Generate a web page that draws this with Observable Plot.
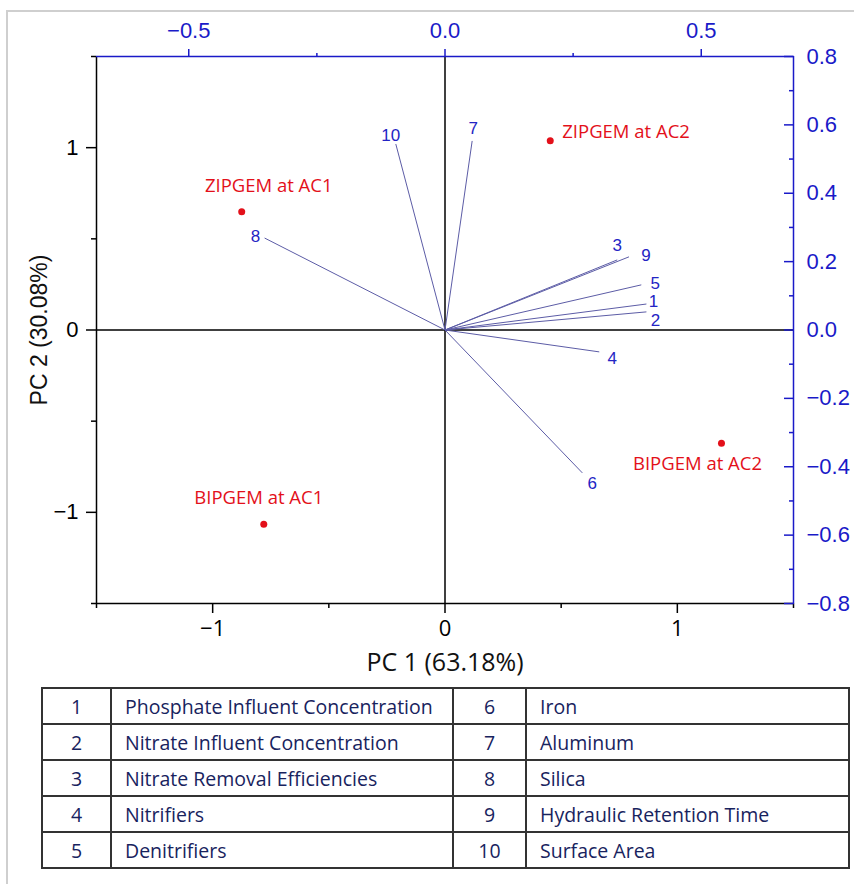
<!DOCTYPE html>
<html>
<head>
<meta charset="utf-8">
<script src="https://cdn.jsdelivr.net/npm/d3@7"></script>
<script src="https://cdn.jsdelivr.net/npm/@observablehq/plot@0.6"></script>
<style>
html,body{margin:0;padding:0;background:#fff;}
#wrap{position:relative;width:854px;height:884px;overflow:hidden;background:#fff;}
#border{position:absolute;left:6px;top:10px;right:0;bottom:0;border-top:2px solid #cfcfcf;border-left:2px solid #cfcfcf;}
#chart{position:absolute;left:0;top:0;}
#legend{position:absolute;left:41px;top:687px;width:807px;border-collapse:collapse;font-family:"Open Sans",sans-serif;font-size:19.5px;color:#18235e;table-layout:fixed;}
#legend td{border:2px solid #333;height:34px;padding:0 0 0 13px;white-space:nowrap;overflow:hidden;}
#legend td.n{text-align:center;padding:0;}
</style>
</head>
<body>
<div id="wrap">
  <div id="border"></div>
  <div id="chart"></div>
  <table id="legend">
    <colgroup><col style="width:69px"><col style="width:342px"><col style="width:73px"><col style="width:323px"></colgroup>
    <tbody></tbody>
  </table>
</div>
<script>
// ---- Data ----
const variableIds = [1, 2, 3, 4, 5, 6, 7, 8, 9, 10];
const variableNames = [
  "Phosphate Influent Concentration",
  "Nitrate Influent Concentration",
  "Nitrate Removal Efficiencies",
  "Nitrifiers",
  "Denitrifiers",
  "Iron",
  "Aluminum",
  "Silica",
  "Hydraulic Retention Time",
  "Surface Area"
];
// loadings (top / right axes)
const loadingPC1 = [0.393, 0.393, 0.336, 0.301, 0.383, 0.268, 0.053, -0.352, 0.359, -0.096];
const loadingPC2 = [0.076, 0.053, 0.205, -0.064, 0.132, -0.418, 0.553, 0.269, 0.214, 0.544];
// scores (bottom / left axes)
const sampleNames = ["ZIPGEM at AC2", "ZIPGEM at AC1", "BIPGEM at AC2", "BIPGEM at AC1"];
const scorePC1 = [0.453, -0.875, 1.19, -0.780];
const scorePC2 = [1.038, 0.648, -0.621, -1.066];
// axis ticks
const pcTicks = [-1, 0, 1];
const pcMinorTicks = [-1.5, -0.5, 0.5, 1.5];
const topTicks = [-0.5, 0.0, 0.5];
const topMinorTicks = [-0.25, 0.25];
const rightTicks = [-0.8, -0.6, -0.4, -0.2, 0.0, 0.2, 0.4, 0.6, 0.8];
const rightMinorTicks = [-0.7, -0.5, -0.3, -0.1, 0.1, 0.3, 0.5, 0.7];
const xTitle = "PC 1 (63.18%)";
const yTitle = "PC 2 (30.08%)";

// ---- label placement (style, pixels) ----
const vecLabelOffset = {
  1: [7, -2], 2: [9, 9], 3: [0, -14], 4: [13, 7], 5: [14, -1],
  6: [10, 11], 7: [1, -12], 8: [-9, -1], 9: [17, -1], 10: [-5, -8]
};
const sampleLabelPlace = {
  "ZIPGEM at AC2": {dx: 12, dy: -9, anchor: "start"},
  "ZIPGEM at AC1": {dx: 27, dy: -26, anchor: "middle"},
  "BIPGEM at AC2": {dx: -24, dy: 21, anchor: "middle"},
  "BIPGEM at AC1": {dx: -5, dy: -26, anchor: "middle"}
};

// secondary axis scale factors (PC units per loading unit)
const pcMax = 1.5;
const topMax = 0.68;
const rightMax = 0.8;
const kx = pcMax / topMax;
const ky = pcMax / rightMax;

const blue = "#1a1ac8";
const vecColor = "#5c5ca6";
const vecText = "#2424c4";
const red = "#e3101a";

const minus = s => s.replace("-", "\u2212");
const fmt1 = v => minus((Math.abs(v) < 1e-9 ? 0 : v).toFixed(1));
const fmt0 = v => minus(String(Math.round(v)));

const vectors = variableIds.map((id, i) => ({id, lx: loadingPC1[i], ly: loadingPC2[i]}));
const samples = sampleNames.map((name, i) => ({name, x: scorePC1[i], y: scorePC2[i]}));

const arial = "'Liberation Sans', Arial, sans-serif";
const sans = "'Open Sans', sans-serif";

const marks = [
  // zero lines
  Plot.ruleX([0], {stroke: "#000", strokeWidth: 1.5}),
  Plot.ruleY([0], {stroke: "#000", strokeWidth: 1.5}),
  // vectors
  Plot.link(vectors, {x1: 0, y1: 0, x2: d => d.lx * kx, y2: d => d.ly * ky, stroke: vecColor, strokeWidth: 1}),
  // frame sides
  Plot.ruleX([-pcMax], {stroke: "#000", strokeWidth: 1.5}),
  Plot.ruleY([-pcMax], {stroke: "#000", strokeWidth: 1.5}),
  Plot.ruleX([pcMax], {stroke: blue, strokeWidth: 1.5}),
  Plot.ruleY([pcMax], {stroke: blue, strokeWidth: 1.5}),
  // bottom axis
  Plot.axisX({anchor: "bottom", ticks: pcTicks, tickSize: 10, tickPadding: 7, tickFormat: fmt0,
    fontSize: 22, fontFamily: sans, color: "#000", strokeWidth: 1.5, label: null}),
  Plot.axisX({anchor: "bottom", ticks: pcMinorTicks, tickSize: 5, tickFormat: () => "", color: "#000", strokeWidth: 1.5, label: null}),
  // left axis
  Plot.axisY({anchor: "left", ticks: pcTicks, tickSize: 10, tickPadding: 8, tickFormat: fmt0,
    fontSize: 22, fontFamily: arial, color: "#000", strokeWidth: 1.5, label: null}),
  Plot.axisY({anchor: "left", ticks: pcMinorTicks, tickSize: 5, tickFormat: () => "", color: "#000", strokeWidth: 1.5, label: null}),
  // top axis (loadings PC1)
  Plot.axisX({anchor: "top", ticks: topTicks.map(v => v * kx), tickSize: 8, tickPadding: 11, tickFormat: d => fmt1(d / kx),
    fontSize: 22, fontFamily: arial, color: blue, strokeWidth: 1.5, label: null}),
  Plot.axisX({anchor: "top", ticks: topMinorTicks.map(v => v * kx), tickSize: 4, tickFormat: () => "", color: blue, strokeWidth: 1.5, label: null}),
  // right axis (loadings PC2), ticks inward
  Plot.axisY({anchor: "right", ticks: rightTicks.map(v => v * ky), tickSize: 10, dx: -10, tickFormat: () => "", color: blue, strokeWidth: 1.5, label: null}),
  Plot.axisY({anchor: "right", ticks: rightMinorTicks.map(v => v * ky), tickSize: 5, dx: -5, tickFormat: () => "", color: blue, strokeWidth: 1.5, label: null}),
  Plot.axisY({anchor: "right", ticks: rightTicks.map(v => v * ky), tickSize: 0, tickPadding: 13, tickFormat: d => fmt1(d / ky),
    fontSize: 22, fontFamily: arial, color: blue, label: null}),
  // axis titles
  Plot.text([xTitle], {frameAnchor: "bottom", dy: 59, lineAnchor: "middle", textAnchor: "middle", fontSize: 25, fontFamily: sans, fill: "#111"}),
  Plot.text([yTitle], {frameAnchor: "left", dx: -57, lineAnchor: "middle", textAnchor: "middle", rotate: -90, fontSize: 23, fontFamily: arial, fill: "#111"}),
  // sample points
  Plot.dot(samples, {x: "x", y: "y", r: 3.5, fill: red, stroke: null})
];

// vector labels
vectors.forEach(v => {
  const [dx, dy] = vecLabelOffset[v.id];
  marks.push(Plot.text([v], {x: d => d.lx * kx, y: d => d.ly * ky, text: d => String(d.id), dx, dy,
    fontSize: 17, fontFamily: arial, fill: vecText}));
});
// sample labels
samples.forEach(s => {
  const p = sampleLabelPlace[s.name];
  marks.push(Plot.text([s], {x: "x", y: "y", text: "name", dx: p.dx, dy: p.dy, textAnchor: p.anchor,
    fontSize: 18.5, fontFamily: sans, fill: red}));
});

const chart = Plot.plot({
  width: 854,
  height: 684,
  marginLeft: 96,
  marginRight: 61,
  marginTop: 56,
  marginBottom: 81,
  x: {domain: [-pcMax, pcMax]},
  y: {domain: [-pcMax, pcMax]},
  style: {background: "transparent", overflow: "visible"},
  marks
});
document.getElementById("chart").appendChild(chart);

// legend table
const tbody = document.querySelector("#legend tbody");
for (let i = 0; i < 5; i++) {
  const tr = document.createElement("tr");
  [[variableIds[i], "n"], [variableNames[i], ""], [variableIds[i + 5], "n"], [variableNames[i + 5], ""]].forEach(([t, c]) => {
    const td = document.createElement("td");
    if (c) td.className = c;
    td.textContent = t;
    tr.appendChild(td);
  });
  tbody.appendChild(tr);
}
</script>
</body>
</html>
